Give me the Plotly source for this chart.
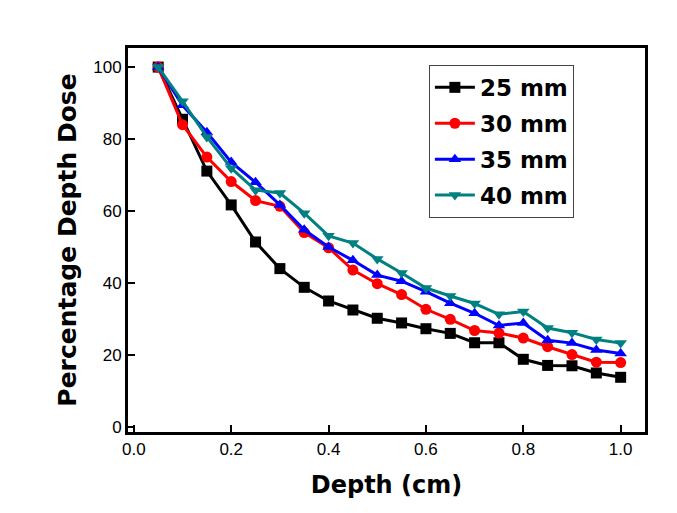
import plotly.graph_objects as go

depth = [0.05, 0.10, 0.15, 0.20, 0.25, 0.30, 0.35, 0.40, 0.45, 0.50,
         0.55, 0.60, 0.65, 0.70, 0.75, 0.80, 0.85, 0.90, 0.95, 1.00]

pdd_25 = [100, 85.5, 71.1, 61.7, 51.4, 44.0, 38.8, 35.0, 32.5, 30.2,
          28.9, 27.3, 26.0, 23.4, 23.4, 18.8, 17.1, 17.0, 15.0, 13.8]
pdd_30 = [100, 84.0, 75.0, 68.2, 62.9, 61.3, 54.0, 49.8, 43.6, 39.8,
          36.8, 32.7, 29.9, 26.8, 26.1, 24.7, 22.3, 20.1, 18.0, 17.9]
pdd_35 = [100, 89.4, 81.9, 73.6, 68.0, 61.7, 54.8, 50.0, 46.3, 42.2,
          40.5, 37.6, 34.4, 31.6, 28.2, 28.9, 24.1, 23.3, 21.4, 20.4]
pdd_40 = [100, 90.5, 80.6, 71.9, 65.8, 65.0, 59.4, 53.1, 51.1, 46.7,
          42.8, 38.6, 36.4, 34.3, 31.3, 32.1, 27.5, 26.2, 24.3, 23.3]

x_ticks = [0.0, 0.2, 0.4, 0.6, 0.8, 1.0]
x_ticktext = ["0.0", "0.2", "0.4", "0.6", "0.8", "1.0"]
y_ticks = [0, 20, 40, 60, 80, 100]

series = [
    ("25 mm", pdd_25, "#000000", "square"),
    ("30 mm", pdd_30, "#FF0000", "circle"),
    ("35 mm", pdd_35, "#0000FF", "triangle-up"),
    ("40 mm", pdd_40, "#008080", "triangle-down"),
]

TITLE_FONT = "DejaVu Sans, Liberation Sans, Arial"
TICK_FONT = "Liberation Sans, Arial"

fig = go.Figure()
for i, (name, vals, color, sym) in enumerate(series):
    fig.add_trace(go.Scatter(
        x=depth, y=vals, name="<b>" + name + "</b>", mode="lines+markers",
        legendgroup="g%d" % i,
        line=dict(color=color, width=3),
        marker=dict(symbol=sym, size=11, color=color),
    ))

axis_common = dict(
    showline=True, linecolor="black", linewidth=3, mirror=True,
    ticks="inside", ticklen=7, tickwidth=2, tickcolor="black",
    showgrid=False, zeroline=False, automargin=False,
    tickfont=dict(family=TICK_FONT, size=17, color="black"),
)

fig.update_layout(
    width=677, height=513,
    paper_bgcolor="white", plot_bgcolor="white",
    margin=dict(l=128, r=32, t=48, b=81),
    font=dict(family=TICK_FONT, color="black"),
    xaxis=dict(range=[-0.012, 1.05], tickvals=x_ticks, ticktext=x_ticktext,
               title=dict(text="<b>Depth (cm)</b>",
                          font=dict(size=24, family=TITLE_FONT), standoff=18),
               **axis_common),
    yaxis=dict(range=[-1.4, 105.3], tickvals=y_ticks,
               title=dict(text="<b>Percentage Depth Dose</b>",
                          font=dict(size=25, family=TITLE_FONT), standoff=10),
               **axis_common),
    legend=dict(x=0.582, y=0.956, xanchor="left", yanchor="top",
                bgcolor="white", bordercolor="#444", borderwidth=1,
                font=dict(size=23, family=TITLE_FONT),
                tracegroupgap=3, itemwidth=40),
    showlegend=True,
)

fig.write_html("out.html", config={"displayModeBar": False},
               post_script="document.body.style.margin='0';")
